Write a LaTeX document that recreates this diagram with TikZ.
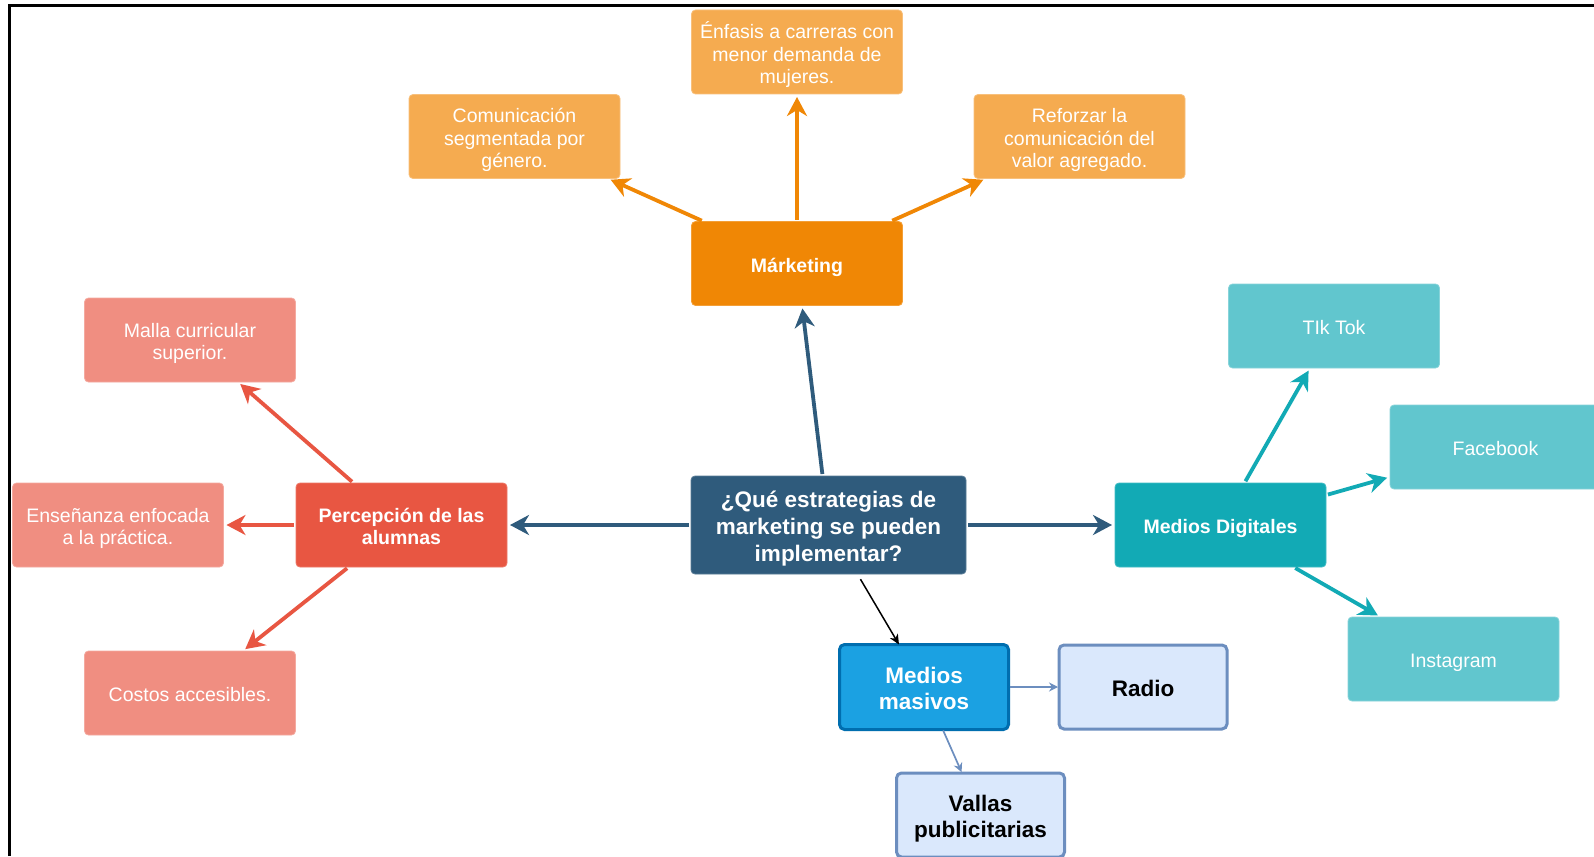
\documentclass[tikz,border=0pt]{standalone}
\usepackage{fontspec}
\setmainfont{Liberation Sans}
\usetikzlibrary{arrows.meta}
\definecolor{lorange}{HTML}{F5AB50}
\definecolor{dorange}{HTML}{F08705}
\definecolor{dred}{HTML}{E85642}
\definecolor{lred}{HTML}{F08E81}
\definecolor{dteal}{HTML}{12AAB5}
\definecolor{lteal}{HTML}{61C6CE}
\definecolor{navy}{HTML}{2F5B7C}
\definecolor{mblue}{HTML}{1BA1E2}
\definecolor{mbluedk}{HTML}{006EAF}
\definecolor{pblue}{HTML}{DAE8FC}
\definecolor{pbluedk}{HTML}{6C8EBF}
\newcommand\nt[1]{\raisebox{-4pt}[\height][\depth]{\begin{tabular}{@{}c@{}}#1\end{tabular}}}
\begin{document}
\begin{tikzpicture}[x=1pt,y=-1pt,
  box/.style={rectangle, rounded corners=4pt, inner sep=2pt, outer sep=0pt, align=center,
    text=white, minimum width=211pt, minimum height=84pt,
    font=\fontsize{19.5}{22.6}\selectfont},
  boldbox/.style={box, font=\fontsize{19.5}{22.6}\selectfont\bfseries},
  leafO/.style={box, fill=lorange, draw=lorange!75!white, line width=0.8pt},
  leafR/.style={box, fill=lred, draw=lred!75!white, line width=0.8pt},
  leafT/.style={box, fill=lteal, draw=lteal!75!white, line width=0.8pt},
  mainO/.style={boldbox, fill=dorange, draw=dorange!80!white, line width=0.8pt},
  mainR/.style={boldbox, fill=dred, draw=dred!80!white, line width=0.8pt},
  mainT/.style={boldbox, fill=dteal, draw=dteal!80!white, line width=0.8pt},
  centerbox/.style={box, fill=navy, draw=navy!80!white, line width=0.8pt,
    minimum width=275pt, minimum height=98pt,
    font=\fontsize{22.5}{26.8}\selectfont\bfseries},
  massbox/.style={box, fill=mblue, draw=mbluedk, line width=3pt,
    minimum width=169pt, minimum height=85pt, rounded corners=5pt,
    font=\fontsize{22.5}{26.4}\selectfont\bfseries},
  palebox/.style={box, fill=pblue, draw=pbluedk, line width=3pt, text=black,
    minimum width=168pt, minimum height=84pt, rounded corners=5pt,
    font=\fontsize{22.5}{26.4}\selectfont\bfseries},
  thickarrow/.style={line width=3.8pt, shorten >=3pt, shorten <=2pt,
    -{Stealth[length=19pt,width=20pt,inset=6pt]}},
  navyarrow/.style={thickarrow, draw=navy},
  orangearrow/.style={thickarrow, draw=dorange},
  redarrow/.style={thickarrow, draw=dred},
  tealarrow/.style={thickarrow, draw=dteal},
  thinblack/.style={draw=black, line width=1.5pt, shorten >=0pt, shorten <=6pt,
    -{Stealth[length=10pt,width=9pt,inset=3pt]}},
  thinblue/.style={draw=pbluedk, line width=1.7pt, shorten >=1pt, shorten <=1pt,
    -{Stealth[length=9pt,width=9pt,inset=3pt]}}
]
\useasboundingbox (0,0) rectangle (1594,856);
\fill[white] (0,0) rectangle (1594,856);
% frame
\draw[line width=3pt, black] (9.5,856) -- (9.5,6) -- (1594,6);

% nodes
\node[centerbox] (q) at (828.5,525) {\nt{¿Qué estrategias de\\marketing se pueden\\implementar?}};

\node[mainO] (mark) at (797,263.5) {\nt{Márketing}};
\node[leafO] (enf) at (797,52) {\nt{Énfasis a carreras con\\menor demanda de\\mujeres.}};
\node[leafO] (com) at (514.5,136.5) {\nt{Comunicación\\segmentada por\\género.}};
\node[leafO] (ref) at (1079.5,136.5) {\nt{Reforzar la\\comunicación del\\valor agregado.}};

\node[mainR] (perc) at (401.5,525) {\nt{Percepción de las\\alumnas}};
\node[leafR] (malla) at (190,340) {\nt{Malla curricular\\superior.}};
\node[leafR] (ens) at (118,525) {\nt{Enseñanza enfocada\\a la práctica.}};
\node[leafR] (cost) at (190,693) {\nt{Costos accesibles.}};

\node[mainT] (md) at (1220.5,525) {\nt{Medios Digitales}};
\node[leafT] (tik) at (1334,326) {\nt{TIk Tok}};
\node[leafT] (fb) at (1495.5,447) {\nt{Facebook}};
\node[leafT] (ins) at (1453.5,659) {\nt{Instagram}};

\node[massbox] (mm) at (924,687) {\nt{Medios\\masivos}};
\node[palebox] (radio) at (1143,687) {\nt{Radio}};
\node[palebox] (vallas) at (980.5,815) {\nt{Vallas\\publicitarias}};

% connectors
\draw[navyarrow] (q) -- (mark);
\draw[navyarrow] (q) -- (perc);
\draw[navyarrow] (q) -- (md);
\draw[thinblack] (q) -- (mm);

\draw[orangearrow] (mark) -- (enf);
\draw[orangearrow] (mark) -- (com);
\draw[orangearrow] (mark) -- (ref);

\draw[redarrow] (perc) -- (malla);
\draw[redarrow] (perc) -- (ens);
\draw[redarrow] (perc) -- (cost);

\draw[tealarrow] (md) -- (tik);
\draw[tealarrow] (md) -- (fb);
\draw[tealarrow] (md) -- (ins);

\draw[thinblue] (mm) -- (radio);
\draw[thinblue] (mm) -- (vallas);
\end{tikzpicture}
\end{document}
